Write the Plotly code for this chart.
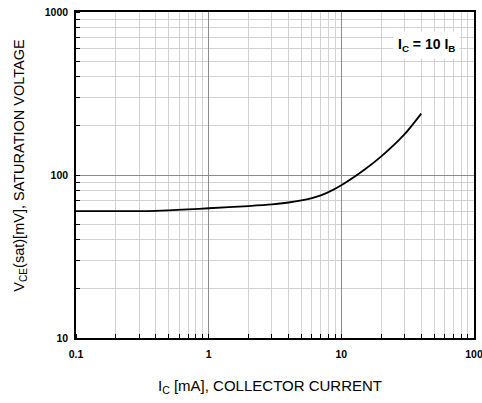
import plotly.graph_objects as go

# Data
ic_ma = [0.1, 0.2, 0.4, 0.7, 1, 2, 3, 4, 5, 6, 7, 8, 10, 15, 20, 30, 40]
vce_mv = [60, 60, 60.3, 61.5, 62.5, 64.5, 66, 67.8, 69.8, 72.2, 75, 78.5, 86.5, 108, 130, 178, 238]

x_tickvals = [0.1, 1, 10, 100]
x_ticktext = ["0.1", "1", "10", "100"]
y_tickvals = [10, 100, 1000]
y_ticktext = ["10", "100", "1000"]

x_title = "I<sub>C</sub> [mA], COLLECTOR CURRENT"
y_title = "V<sub>CE</sub>(sat)[mV], SATURATION VOLTAGE"
note = "<b>I<sub>C</sub> = 10 I<sub>B</sub></b>"

FONT = "Liberation Sans, Arial, sans-serif"

fig = go.Figure()
fig.add_trace(go.Scatter(x=ic_ma, y=vce_mv, mode="lines",
                         line=dict(color="black", width=1.8, shape="spline", smoothing=0.8),
                         showlegend=False, hoverinfo="skip"))

axis_common = dict(
    type="log", automargin=False, ticklabeloverflow="allow",
    showline=True, linecolor="black", linewidth=1.5, mirror=True,
    showgrid=True, gridcolor="#8c8c8c", gridwidth=1,
    ticks="", zeroline=False,
    tickfont=dict(family=FONT, size=10.5, color="black"),
    minor=dict(dtick="D1", showgrid=True, gridcolor="#d2d2d2", gridwidth=1,
               ticks="inside", ticklen=4, tickcolor="black", tickwidth=1),
)

fig.update_xaxes(**axis_common, range=[-1, 2], tickmode="array",
                 tickvals=x_tickvals, ticktext=["<b>%s</b>" % t for t in x_ticktext],
                 ticklabelstandoff=6)
fig.update_yaxes(**axis_common, range=[1, 3], tickmode="array",
                 tickvals=y_tickvals, ticktext=["<b>%s</b>" % t for t in y_ticktext],
                 ticklabelstandoff=4)

# axis titles as annotations for exact placement
fig.add_annotation(x=0.487, y=-0.150, xref="paper", yref="paper", xanchor="center", yanchor="middle",
                   text=x_title, showarrow=False,
                   font=dict(family=FONT, size=15, color="black"))
fig.add_annotation(x=-0.143, y=0.529, xref="paper", yref="paper", xanchor="center", yanchor="middle",
                   text=y_title, showarrow=False, textangle=-90,
                   font=dict(family=FONT, size=14.5, color="black"))

fig.add_annotation(x=0.965, y=0.898, xref="paper", yref="paper", xanchor="right", yanchor="middle",
                   text=note, showarrow=False,
                   font=dict(family=FONT, size=14, color="black"),
                   bgcolor="white", borderpad=4)

fig.update_layout(width=482, height=403,
                  margin=dict(l=76, r=8, t=12, b=65),
                  paper_bgcolor="white", plot_bgcolor="white",
                  font=dict(family=FONT))

fig.write_html("out.html", config={"displayModeBar": False},
               post_script="document.body.style.margin='0';")
